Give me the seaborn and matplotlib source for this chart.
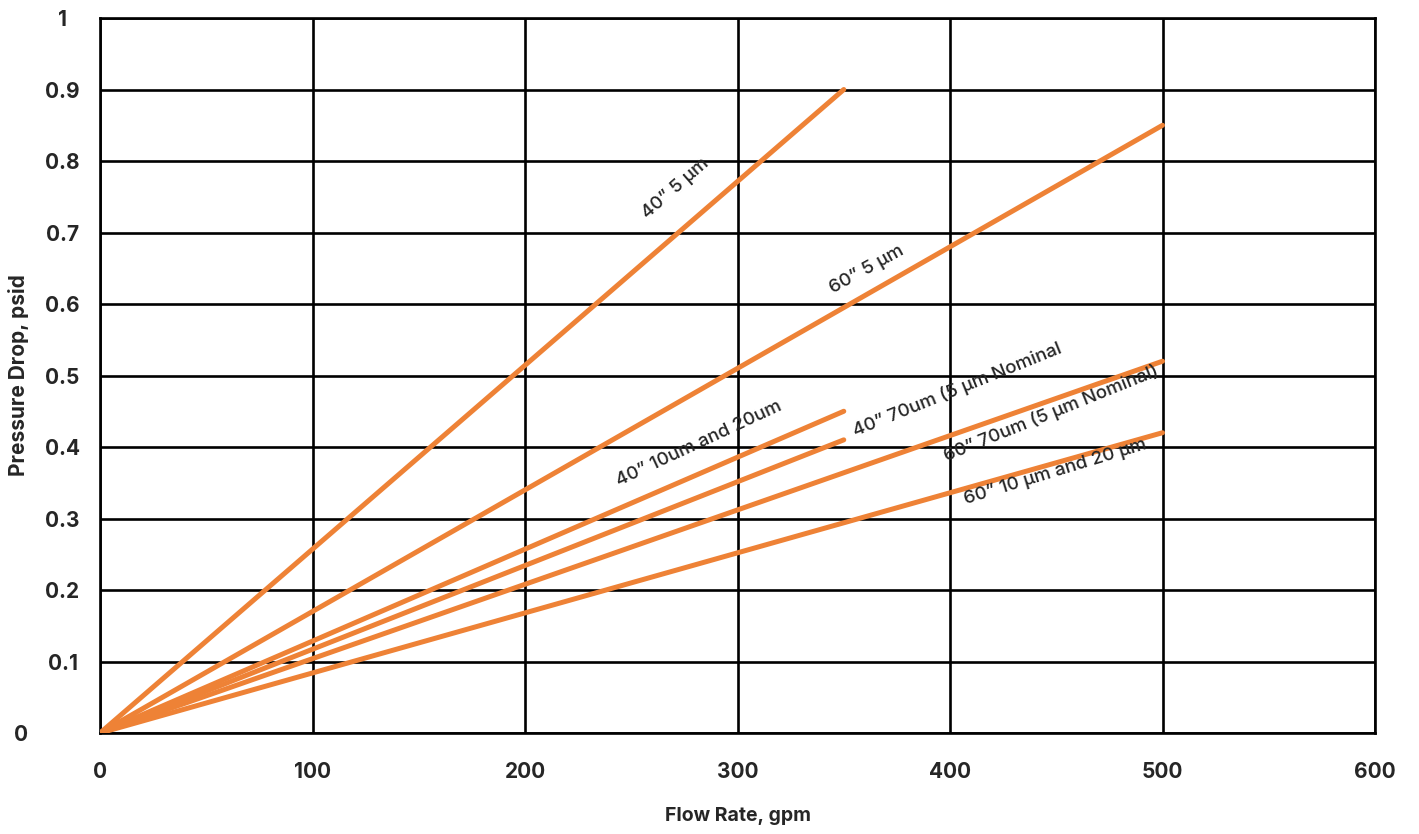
import numpy as np
import pandas as pd
import matplotlib
matplotlib.use("Agg")
import matplotlib.pyplot as plt
import matplotlib.transforms as mtransforms
import seaborn as sns

# series: each line runs from the origin to its end point
series = ['40” 5 µm', '60” 5 µm', '40” 10um and 20um',
          '40” 70um (5 µm Nominal', '60” 70um (5 µm Nominal)', '60” 10 µm and 20 µm']
end_flow = [350, 500, 350, 350, 500, 500]
end_dp = [0.90, 0.85, 0.45, 0.41, 0.52, 0.42]

x_ticks = [0, 100, 200, 300, 400, 500, 600]
y_ticks = [0, 0.1, 0.2, 0.3, 0.4, 0.5, 0.6, 0.7, 0.8, 0.9, 1]
y_ticklabels = ["0", "0.1", "0.2", "0.3", "0.4", "0.5", "0.6", "0.7", "0.8", "0.9", "1"]

rows = []
for name, fx, dp in zip(series, end_flow, end_dp):
    rows.append({"series": name, "flow": 0, "dp": 0.0})
    rows.append({"series": name, "flow": fx, "dp": dp})
df = pd.DataFrame(rows)

sns.set_style("white")
plt.rcParams["font.family"] = ["Inter", "DejaVu Sans"]

orange = "#EE8236"
fig = plt.figure(figsize=(14.19, 8.34), dpi=100)
ax = fig.add_axes([0.0705, 0.1211, 0.8985, 0.8573])

sns.lineplot(data=df, x="flow", y="dp", hue="series", palette=[orange] * len(series),
             linewidth=3.6, legend=False, ax=ax, zorder=3)

ax.set_xlim(0, 600)
ax.set_ylim(0, 1)
ax.set_xticks(x_ticks)
ax.set_yticks(y_ticks)
ax.set_yticklabels(y_ticklabels)
ax.grid(True, color="black", linewidth=1.9)
ax.set_axisbelow(True)
for s in ax.spines.values():
    s.set_color("black")
    s.set_linewidth(1.9)

ax.tick_params(axis="x", length=0, pad=21, labelsize=15)
ax.tick_params(axis="y", length=0, pad=27, labelsize=15)
for lab in ax.get_xticklabels():
    lab.set_fontweight("bold")
for lab in ax.get_yticklabels():
    lab.set_fontweight("bold")
    lab.set_horizontalalignment("center")
# the "0" on the y axis sits further left in the reference
zero = ax.get_yticklabels()[0]
zero.set_transform(zero.get_transform() + mtransforms.ScaledTranslation(-0.42, 0, fig.dpi_scale_trans))

ax.set_xlabel("Flow Rate, gpm", fontsize=14, fontweight="bold")
ax.set_ylabel("Pressure Drop, psid", fontsize=15, fontweight="bold")
ax.xaxis.set_label_coords(0.5, -0.103)
ax.yaxis.set_label_coords(-0.064, 0.5)
ax.yaxis.label.set_verticalalignment("center")

# line labels: (flow, pressure, angle) of each label's lower-left corner
label_pos = [(259, 0.715, 41), (346, 0.61, 29), (245, 0.34, 25),
             (356, 0.41, 22), (399, 0.375, 22), (408, 0.315, 17)]
for name, (lx, ly, rot) in zip(series, label_pos):
    ax.text(lx, ly, name, rotation=rot, fontsize=13.5, fontweight="medium",
            ha="left", va="bottom", rotation_mode="anchor", zorder=4)

fig.savefig("out.png", dpi=100)
